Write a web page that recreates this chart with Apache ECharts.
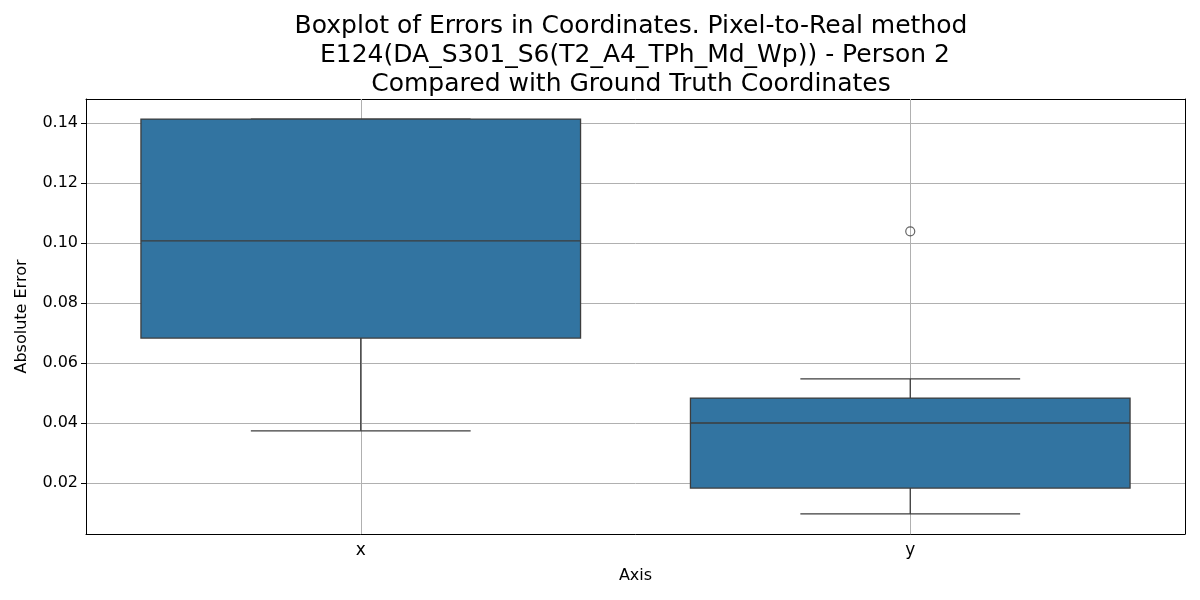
<!DOCTYPE html>
<html>
<head>
<meta charset="utf-8">
<script src="https://cdn.jsdelivr.net/npm/echarts@6/dist/echarts.min.js"></script>
<style>
  html, body { margin: 0; padding: 0; background: #fff; }
  #chart { width: 1200px; height: 600px; }
</style>
</head>
<body>
<div id="chart"></div>
<script>
// box statistics per axis
var categories = ['x', 'y'];
var lowerWhisker = [0.0374, 0.0097];
var q1 = [0.0683, 0.0183];
var median = [0.1007, 0.0400];
var q3 = [0.1413, 0.0483];
var upperWhisker = [0.1413, 0.0547];
var outliers = [['y', 0.1039]];

var FONT = 'DejaVu Sans';
var LINE = '#3d3d3d';
var BOX = '#3274a1';

var boxData = categories.map(function (c, i) {
    return [i, lowerWhisker[i], q1[i], median[i], q3[i], upperWhisker[i]];
});

var chart = echarts.init(document.getElementById('chart'));

function renderBox(params, api) {
    var i = api.value(0);
    var bandW = api.size([1, 0])[0];
    var boxW = bandW * 0.8;
    var capW = boxW / 2;
    var pLow = api.coord([i, api.value(1)]);
    var pQ1 = api.coord([i, api.value(2)]);
    var pMed = api.coord([i, api.value(3)]);
    var pQ3 = api.coord([i, api.value(4)]);
    var pHigh = api.coord([i, api.value(5)]);
    var cx = pMed[0];
    var ls = { stroke: LINE, lineWidth: 1.3 };
    return {
        type: 'group',
        children: [
            { type: 'line', shape: { x1: cx, y1: pLow[1], x2: cx, y2: pQ1[1] }, style: ls },
            { type: 'line', shape: { x1: cx, y1: pQ3[1], x2: cx, y2: pHigh[1] }, style: ls },
            { type: 'line', shape: { x1: cx - capW / 2, y1: pLow[1], x2: cx + capW / 2, y2: pLow[1] }, style: ls },
            { type: 'line', shape: { x1: cx - capW / 2, y1: pHigh[1], x2: cx + capW / 2, y2: pHigh[1] }, style: ls },
            {
                type: 'rect',
                shape: { x: cx - boxW / 2, y: pQ3[1], width: boxW, height: pQ1[1] - pQ3[1] },
                style: { fill: BOX, stroke: LINE, lineWidth: 1.3 }
            },
            { type: 'line', shape: { x1: cx - boxW / 2, y1: pMed[1], x2: cx + boxW / 2, y2: pMed[1] }, style: ls }
        ]
    };
}

// plain frame axes for the top and right edges
var frameX = {
    type: 'category', data: categories, position: 'top',
    axisLine: { show: true, onZero: false, lineStyle: { color: '#000', width: 1 } },
    axisTick: { show: false }, axisLabel: { show: false }, splitLine: { show: false }
};
var frameY = {
    type: 'value', min: 0.003, max: 0.148, position: 'right',
    axisLine: { show: true, onZero: false, lineStyle: { color: '#000', width: 1 } },
    axisTick: { show: false }, axisLabel: { show: false }, splitLine: { show: false }
};

var option = {
    animation: false,
    backgroundColor: '#fff',
    title: {
        text: 'Boxplot of Errors in Coordinates. Pixel-to-Real method\n E124(DA_S301_S6(T2_A4_TPh_Md_Wp)) - Person 2\nCompared with Ground Truth Coordinates',
        left: 626,
        top: 7,
        textAlign: 'center',
        textStyle: {
            fontFamily: FONT,
            fontSize: 25,
            fontWeight: 'normal',
            color: '#000',
            lineHeight: 29
        }
    },
    grid: {
        left: 86,
        right: 15,
        top: 99,
        bottom: 66
    },
    xAxis: [{
        type: 'category',
        data: categories,
        boundaryGap: true,
        name: 'Axis',
        nameLocation: 'middle',
        nameGap: 34,
        nameTextStyle: { fontFamily: FONT, fontSize: 16, color: '#000' },
        axisLine: { show: true, onZero: false, lineStyle: { color: '#000', width: 1 } },
        axisTick: { alignWithLabel: true, length: 5, lineStyle: { color: '#000' } },
        axisLabel: { fontFamily: FONT, fontSize: 17, color: '#000', margin: 8 },
        splitLine: { show: false }
    }, frameX],
    yAxis: [{
        type: 'value',
        min: 0.003,
        max: 0.148,
        splitNumber: 7,
        name: 'Absolute Error',
        nameLocation: 'middle',
        nameGap: 56,
        nameTextStyle: { fontFamily: FONT, fontSize: 16, color: '#000' },
        axisLine: { show: true, onZero: false, lineStyle: { color: '#000', width: 1 } },
        axisTick: { show: true, length: 5, lineStyle: { color: '#000' } },
        axisLabel: {
            fontFamily: FONT, fontSize: 16, color: '#000', margin: 8,
            showMinLabel: false, showMaxLabel: false,
            formatter: function (v) { return v.toFixed(2); }
        },
        splitLine: { show: true, lineStyle: { color: '#b0b0b0', width: 1 } }
    }, frameY],
    series: [
        {
            type: 'custom',
            renderItem: renderBox,
            data: boxData,
            encode: { x: 0, y: [1, 2, 3, 4, 5] },
            z: 3,
            markLine: {
                silent: true,
                symbol: 'none',
                label: { show: false },
                lineStyle: { color: '#b0b0b0', width: 1, type: 'solid' },
                data: categories.map(function (c) { return { xAxis: c }; }),
                z: 1
            }
        },
        {
            type: 'scatter',
            data: outliers,
            symbol: 'circle',
            symbolSize: 9,
            itemStyle: { color: 'rgba(0,0,0,0)', borderColor: LINE, borderWidth: 1.2 },
            z: 4
        }
    ]
};

chart.setOption(option);
</script>
</body>
</html>
